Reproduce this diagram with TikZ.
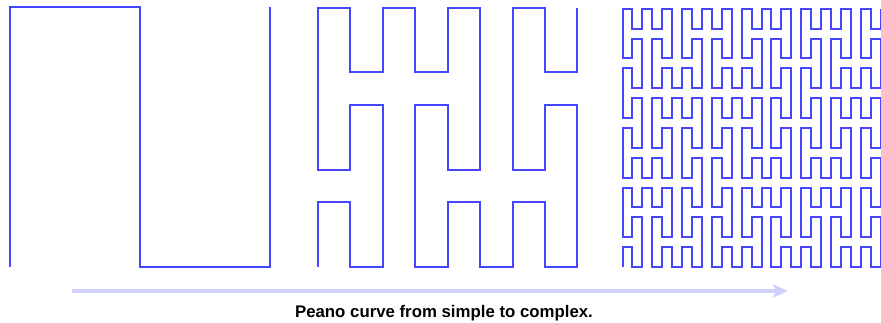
\documentclass[tikz,border=0pt]{standalone}
\usepackage{fontspec}
\setmainfont{Liberation Sans}
\usetikzlibrary{arrows.meta}
% --- Peano curve generator (L-system X -> XFYFX+F+YFXFY-F-XFYFX, Y -> YFXFY-F-XFYFX+F+YFXFY)
\newcount\pnx \newcount\pny \newcount\pndx \newcount\pndy \newcount\pntmp
\def\pnF{\advance\pnx\pndx \advance\pny\pndy \xdef\pnpath{\pnpath -- (\the\pnx,\the\pny)}}
\def\pnR{\pntmp=\pndx \pndx=\pndy \pndy=-\pntmp}
\def\pnL{\pntmp=\pndx \pndx=-\pndy \pndy=\pntmp}
\def\pnX#1{\ifnum#1>0 \expandafter\pnXbody\expandafter{\the\numexpr#1-1\relax}\fi}
\def\pnY#1{\ifnum#1>0 \expandafter\pnYbody\expandafter{\the\numexpr#1-1\relax}\fi}
\def\pnXbody#1{\pnX{#1}\pnF\pnY{#1}\pnF\pnX{#1}\pnR\pnF\pnR\pnY{#1}\pnF\pnX{#1}\pnF\pnY{#1}\pnL\pnF\pnL\pnX{#1}\pnF\pnY{#1}\pnF\pnX{#1}}
\def\pnYbody#1{\pnY{#1}\pnF\pnX{#1}\pnF\pnY{#1}\pnL\pnF\pnL\pnX{#1}\pnF\pnY{#1}\pnF\pnX{#1}\pnR\pnF\pnR\pnY{#1}\pnF\pnX{#1}\pnF\pnY{#1}}
\def\peanopath#1{\pnx=0 \pny=0 \pndx=0 \pndy=1 \gdef\pnpath{(0,0)}\pnX{#1}}
\definecolor{curveblue}{RGB}{70,70,255}
\definecolor{arrowlav}{RGB}{208,208,255}
\tikzset{
  peano/.style={draw=curveblue, line width=2pt, line join=miter},
  progress/.style={draw=arrowlav, line width=3.6pt, -{Stealth[length=15pt,width=13pt,inset=3pt]}},
  captiontext/.style={font=\bfseries\fontsize{16.8}{20}\selectfont, inner sep=0pt, anchor=base}
}
\begin{document}
\begin{tikzpicture}[x=1pt,y=1pt]
\useasboundingbox (0,0) rectangle (881,323);
% order 1
\peanopath{1}
\begin{scope}[shift={(10,56)}]
  \edef\pncmd{\noexpand\draw[peano, x=129.75pt, y=129.75pt] \pnpath;}\pncmd
\end{scope}
% order 2
\peanopath{2}
\begin{scope}[shift={(318,56)}]
  \edef\pncmd{\noexpand\draw[peano, x=32.42pt, y=32.42pt] \pnpath;}\pncmd
\end{scope}
% order 3
\peanopath{3}
\begin{scope}[shift={(622.5,56)}]
  \edef\pncmd{\noexpand\draw[peano, x=9.93pt, y=9.93pt] \pnpath;}\pncmd
\end{scope}
\coordinate (a1) at (72,32);
\coordinate (a2) at (788,32);
\draw[progress] (a1) -- (a2);
\node[captiontext] (caption) at (444,5.5) {Peano curve from simple to complex.};
\end{tikzpicture}
\end{document}
